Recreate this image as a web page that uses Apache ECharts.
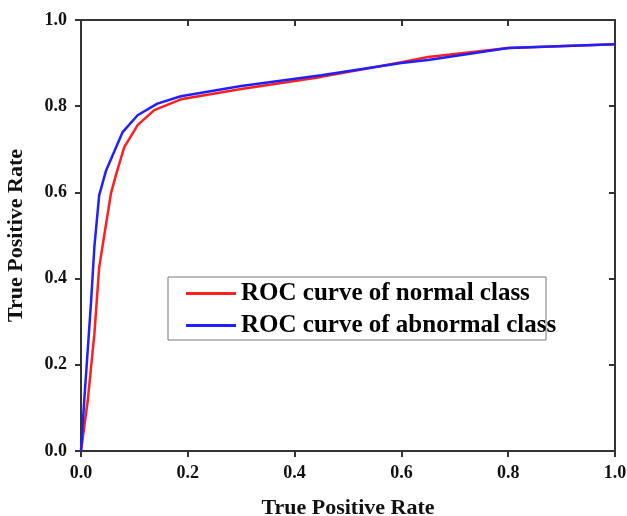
<!DOCTYPE html>
<html lang="en">
<head>
  <meta charset="UTF-8">
  <title>ROC</title>
  <style>
    body, html { margin: 0; padding: 0; background: #fff; }
    #main { width: 627px; height: 516px; }
  </style>
</head>
<body>
  <div id="main"></div>
  <script src="https://cdn.jsdelivr.net/npm/echarts@6/dist/echarts.min.js"></script>
  <script>
    // data
    var normalFpr = [0, 0.0125, 0.025, 0.034, 0.044, 0.056, 0.066, 0.081, 0.106, 0.137, 0.187, 0.30, 0.45, 0.60, 0.65, 0.80, 1.0];
    var normalTpr = [0, 0.116, 0.271, 0.426, 0.504, 0.597, 0.643, 0.705, 0.756, 0.791, 0.816, 0.840, 0.868, 0.902, 0.914, 0.935, 0.944];
    var abnormalFpr = [0, 0.006, 0.019, 0.025, 0.034, 0.047, 0.078, 0.106, 0.143, 0.187, 0.30, 0.45, 0.60, 0.65, 0.80, 1.0];
    var abnormalTpr = [0, 0.116, 0.349, 0.473, 0.593, 0.651, 0.740, 0.779, 0.806, 0.823, 0.847, 0.872, 0.900, 0.907, 0.935, 0.944];
    var seriesNames = ['ROC curve of normal class', 'ROC curve of abnormal class'];

    function pairs(xs, ys) {
      return xs.map(function (x, i) { return [x, ys[i]]; });
    }

    var font = '"Liberation Serif", "Times New Roman", serif';
    var axisColor = '#333';
    var lineIcon = 'path://M0,0H50V3H0Z';

    var chart = echarts.init(document.getElementById('main'));
    var option = {
      backgroundColor: '#fff',
      animation: false,
      grid: { left: 81, right: 12, top: 20, bottom: 65, outerBoundsMode: 'none' },
      legend: {
        orient: 'vertical',
        left: 186,
        top: 281,
        z: 10,
        padding: 0,
        itemWidth: 50,
        itemHeight: 3,
        itemGap: 7,
        selectedMode: false,
        textStyle: { fontFamily: font, fontWeight: 'bold', fontSize: 25, color: '#000', lineHeight: 22 },
        data: [{ name: seriesNames[0], icon: lineIcon }, { name: seriesNames[1], icon: lineIcon }]
      },
      graphic: [{
        type: 'rect',
        shape: { x: 168, y: 277, width: 378, height: 63 },
        style: { fill: '#fff', stroke: '#777', lineWidth: 1 },
        z: 1
      }],
      xAxis: [{
        type: 'value', min: 0, max: 1, interval: 0.2,
        name: 'True Positive Rate', nameLocation: 'middle', nameGap: 46,
        nameTextStyle: { fontFamily: font, fontWeight: 'bold', fontSize: 22, color: '#111' },
        axisLine: { lineStyle: { color: axisColor, width: 2 } },
        axisTick: { length: 6, lineStyle: { color: axisColor, width: 2 } },
        axisLabel: { fontFamily: font, fontWeight: 'bold', fontSize: 18, color: '#111', margin: 13,
          formatter: function (v) { return v.toFixed(1); } },
        splitLine: { show: false }
      }, {
        type: 'value', position: 'top', min: 0, max: 1, interval: 0.2,
        axisLine: { onZero: false, lineStyle: { color: axisColor, width: 2 } },
        axisTick: { inside: true, length: 6, lineStyle: { color: axisColor, width: 2 } },
        axisLabel: { show: false },
        splitLine: { show: false }
      }],
      yAxis: [{
        type: 'value', min: 0, max: 1, interval: 0.2,
        name: 'True Positive Rate', nameLocation: 'middle', nameGap: 54, nameRotate: 90,
        nameTextStyle: { fontFamily: font, fontWeight: 'bold', fontSize: 22, color: '#111' },
        axisLine: { show: true, lineStyle: { color: axisColor, width: 2 } },
        axisTick: { show: true, length: 6, lineStyle: { color: axisColor, width: 2 } },
        axisLabel: { fontFamily: font, fontWeight: 'bold', fontSize: 18, color: '#111', margin: 14,
          formatter: function (v) { return v.toFixed(1); } },
        splitLine: { show: false }
      }, {
        type: 'value', position: 'right', min: 0, max: 1, interval: 0.2,
        axisLine: { show: true, onZero: false, lineStyle: { color: axisColor, width: 2 } },
        axisTick: { show: true, inside: true, length: 6, lineStyle: { color: axisColor, width: 2 } },
        axisLabel: { show: false },
        splitLine: { show: false }
      }],
      series: [{
        name: seriesNames[0],
        type: 'line',
        symbol: 'none',
        color: '#ff1f1f',
        lineStyle: { width: 2.5 },
        z: 2,
        data: pairs(normalFpr, normalTpr)
      }, {
        name: seriesNames[1],
        type: 'line',
        symbol: 'none',
        color: '#1f1fff',
        lineStyle: { width: 2.5 },
        z: 3,
        data: pairs(abnormalFpr, abnormalTpr)
      }]
    };
    chart.setOption(option);
  </script>
</body>
</html>
